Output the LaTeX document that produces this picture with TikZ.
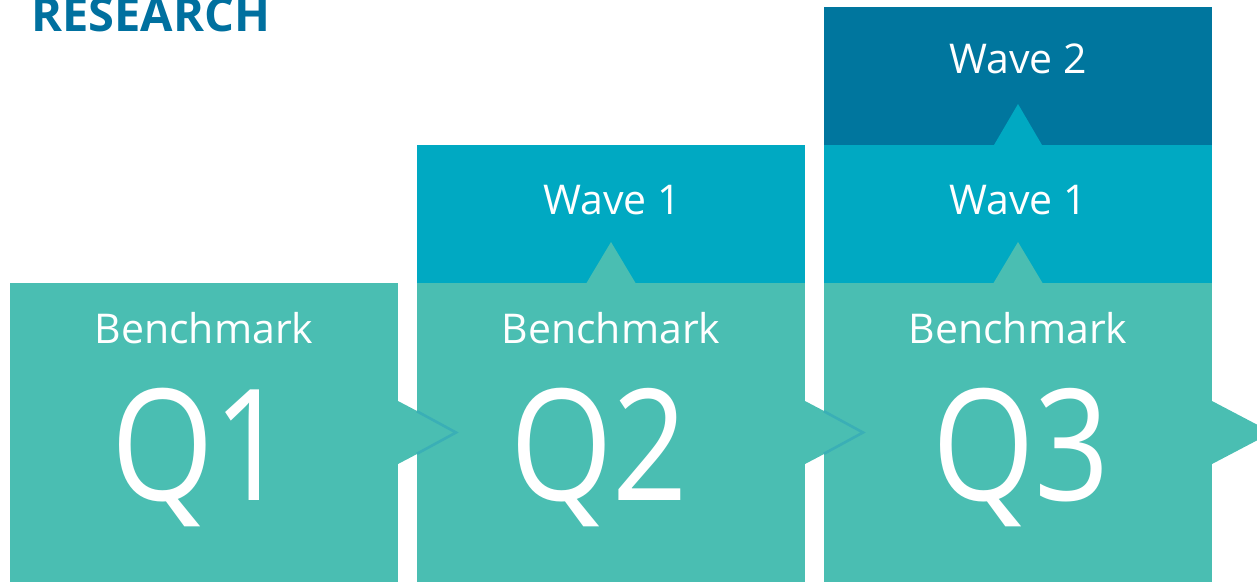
\documentclass[tikz,border=0pt]{standalone}
\usepackage{fontspec}
\setmainfont{Open Sans}
\newfontfamily\qfont[FakeStretch=0.85]{Open Sans}
\usetikzlibrary{calc}
\definecolor{benchc}{HTML}{4ABEB2}
\definecolor{waveone}{HTML}{00A9C2}
\definecolor{wavetwo}{HTML}{00769E}
\definecolor{titlec}{HTML}{00709F}
\definecolor{arrowline}{HTML}{3AAFB6}
\begin{document}
\begin{tikzpicture}[x=1pt,y=-1pt,
  panel/.style={anchor=north west, inner sep=0pt, outer sep=0pt, minimum width=388pt},
  benchbox/.style={panel, fill=benchc, minimum height=299pt},
  waveonebox/.style={panel, fill=waveone, minimum height=138pt},
  wavetwobox/.style={panel, fill=wavetwo, minimum height=138pt},
  lbl/.style={text=white, inner sep=0pt, anchor=base, font=\fontsize{41}{41}\selectfont},
  qlbl/.style={text=white, inner sep=0pt, anchor=base, font=\qfont\fontsize{155}{155}\selectfont},
  arrowedge/.style={draw=arrowline, line width=2.6pt, line join=miter},
]
\useasboundingbox (0,0) rectangle (1257,582);

% title
\node[text=titlec, inner sep=0pt, anchor=base west, font=\fontsize{47}{47}\selectfont\bfseries] (title) at (31,31) {RESEARCH};

% panels
\node[benchbox] (b1) at (10,283) {};
\node[benchbox] (b2) at (417,283) {};
\node[benchbox] (b3) at (824,283) {};
\node[waveonebox] (w21) at (417,145) {};
\node[waveonebox] (w31) at (824,145) {};
\node[wavetwobox] (w32) at (824,7) {};

% up triangles
\fill[benchc] ($(w21.south)+(-24.5,0)$) -- ($(w21.south)+(0,-41)$) -- ($(w21.south)+(24.5,0)$) -- cycle;
\fill[benchc] ($(w31.south)+(-24.5,0)$) -- ($(w31.south)+(0,-41)$) -- ($(w31.south)+(24.5,0)$) -- cycle;
\fill[waveone] ($(w32.south)+(-24,0)$) -- ($(w32.south)+(0,-41)$) -- ($(w32.south)+(24,0)$) -- cycle;

% right arrows
\foreach \b in {b1,b2,b3}{
  \fill[benchc] ($(\b.east)+(0,-31.5)$) -- ($(\b.east)+(60,0)$) -- ($(\b.east)+(0,31.5)$) -- cycle;
}
\foreach \b in {b1,b2}{
  \draw[arrowedge] ($(\b.east)+(19,-21.2)$) -- ($(\b.east)+(58,0)$) -- ($(\b.east)+(19,21.2)$);
}

% labels
\node[lbl] (l2w1) at ($(w21.south)+(1,-69)$) {Wave 1};
\node[lbl] (l3w1) at ($(w31.south)+(0,-69)$) {Wave 1};
\node[lbl] (l3w2) at ($(w32.south)+(0,-72)$) {Wave 2};
\node[lbl] (l1b) at ($(b1.north)+(0,60)$) {Benchmark};
\node[lbl] (l2b) at ($(b2.north)+(0,60)$) {Benchmark};
\node[lbl] (l3b) at ($(b3.north)+(0,60)$) {Benchmark};
\node[qlbl] (q1) at ($(b1.north)+(-4,217)$) {Q1};
\node[qlbl] (q2) at ($(b2.north)+(-12,217)$) {Q2};
\node[qlbl] (q3) at ($(b3.north)+(3,217)$) {Q3};
\end{tikzpicture}
\end{document}
